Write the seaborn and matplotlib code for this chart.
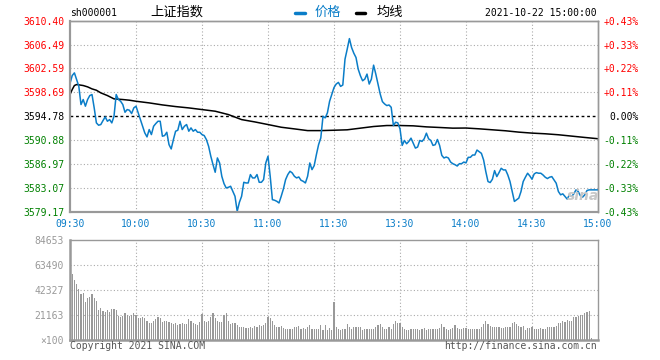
import matplotlib
matplotlib.use("Agg")
import matplotlib.pyplot as plt
from matplotlib.lines import Line2D
import seaborn as sns
import pandas as pd
import numpy as np

# --- data (minutes since 09:30, lunch break removed) ---
minutes = list(range(241))

price = [
    3600.13, 3601.43, 3601.87, 3600.78, 3599.69, 3596.69, 3597.51, 3596.42, 3597.51, 3598.16,
    3598.33, 3596.14, 3593.69, 3593.31, 3593.42, 3594.07, 3594.67, 3593.96, 3594.23, 3593.69,
    3594.78, 3598.33, 3597.51, 3597.23, 3596.69, 3595.43, 3595.87, 3595.76, 3595.22, 3596.14,
    3596.42, 3595.33, 3594.23, 3593.14, 3592.05, 3591.40, 3592.60, 3591.78, 3593.14, 3593.58,
    3593.96, 3593.96, 3591.51, 3591.62, 3592.16, 3590.14, 3589.43, 3590.96, 3592.33, 3592.49,
    3593.96, 3592.60, 3593.14, 3593.42, 3592.33, 3592.87, 3592.33, 3592.60, 3592.16, 3592.16,
    3591.78, 3591.62, 3590.96, 3589.87, 3588.24, 3586.87, 3585.62, 3587.96, 3587.14, 3584.96,
    3583.76, 3583.05, 3583.16, 3583.33, 3582.51, 3581.69, 3579.24, 3580.71, 3581.69, 3583.98,
    3583.87, 3583.87, 3585.24, 3584.69, 3584.69, 3585.24, 3583.98, 3583.98, 3584.42, 3587.14,
    3588.24, 3584.96, 3581.14, 3581.04, 3580.87, 3580.60, 3581.69, 3582.89, 3584.42, 3585.24,
    3585.78, 3585.51, 3584.96, 3584.69, 3584.85, 3584.31, 3584.14, 3583.87, 3584.96, 3587.14,
    3586.05, 3586.71, 3588.51, 3590.14, 3591.23, 3594.78, 3594.51, 3595.33, 3597.23, 3598.33,
    3599.47, 3600.04, 3600.31, 3599.66, 3599.88, 3604.11, 3605.74, 3607.47, 3606.01, 3605.09,
    3604.38, 3602.48, 3601.40, 3600.58, 3600.85, 3601.67, 3600.04, 3600.85, 3603.13, 3601.67,
    3600.04, 3598.41, 3597.17, 3596.79, 3596.52, 3596.62, 3596.24, 3593.26, 3593.80, 3593.70,
    3592.72, 3590.01, 3590.82, 3590.28, 3590.66, 3591.20, 3590.39, 3589.57, 3589.74, 3590.82,
    3590.66, 3591.09, 3592.01, 3591.09, 3590.82, 3590.01, 3590.12, 3590.98, 3590.01, 3588.38,
    3587.95, 3588.11, 3587.95, 3587.29, 3587.02, 3586.86, 3586.64, 3587.02, 3587.02, 3587.29,
    3587.15, 3588.06, 3588.06, 3588.44, 3588.44, 3589.25, 3588.98, 3588.71, 3587.63, 3585.73,
    3584.10, 3583.94, 3584.48, 3585.89, 3584.91, 3585.56, 3586.27, 3586.00, 3586.00, 3585.18,
    3584.10, 3582.47, 3580.85, 3581.12, 3581.39, 3582.47, 3584.10, 3584.81, 3585.46, 3585.02,
    3584.48, 3585.35, 3585.56, 3585.46, 3585.46, 3585.18, 3584.81, 3584.59, 3584.81, 3584.91,
    3584.37, 3583.83, 3582.47, 3581.93, 3582.09, 3581.66, 3581.23, 3581.93, 3581.66, 3582.09,
    3582.74, 3582.47, 3581.77, 3581.55, 3581.93, 3582.64, 3582.74, 3582.74, 3582.74, 3582.74,
    3582.74,
]

avg_min = [0, 1, 2, 3, 4, 6, 8, 10, 12, 14, 17, 20, 24, 27, 30, 36, 42, 48, 54, 60,
           66, 72, 78, 84, 90, 96, 102, 108, 114, 120, 126, 132, 138, 144, 150, 156,
           162, 168, 174, 180, 186, 192, 198, 204, 210, 216, 222, 228, 234, 240]
avg_price = [3598.33, 3599.14, 3599.80, 3599.96, 3599.91, 3599.80, 3599.58, 3599.25, 3599.03, 3598.60,
             3598.16, 3597.62, 3597.51, 3597.40, 3597.23, 3596.96, 3596.63, 3596.36, 3596.14, 3595.87,
             3595.60, 3595.05, 3594.23, 3593.85, 3593.42, 3592.98, 3592.71, 3592.43, 3592.43, 3592.49,
             3592.56, 3592.83, 3593.10, 3593.26, 3593.26, 3593.21, 3593.04, 3592.94, 3592.83, 3592.85,
             3592.72, 3592.56, 3592.40, 3592.18, 3592.02, 3591.91, 3591.75, 3591.53, 3591.31, 3591.10]

# volume in units of 100 shares
volume = [
    55000, 55800, 50800, 47400, 42900, 38900, 40000, 32400, 35300, 36100,
    38900, 35300, 33300, 25400, 26800, 24800, 24000, 25400, 24000, 26200,
    25900, 25400, 20300, 19700, 20300, 22600, 21200, 20300, 21200, 22600,
    21200, 18900, 18300, 19200, 18300, 16400, 14700, 14700, 16400, 17500,
    19200, 18300, 15500, 16100, 16400, 15500, 14700, 13500, 14100, 13000,
    13500, 14100, 13500, 13500, 17500, 16400, 14100, 13500, 12700, 15500,
    21700, 16400, 15500, 16400, 19200, 23100, 18300, 16400, 15200, 15500,
    20900, 22600, 16400, 13500, 14700, 14700, 12700, 11300, 11300, 10700,
    9900, 9900, 10700, 10200, 11800, 10700, 12400, 11800, 12700, 14700,
    19200, 18300, 16400, 12700, 11300, 10700, 11800, 9900, 9600, 9000,
    9300, 9600, 10700, 11300, 11800, 9600, 10400, 9600, 10700, 12700,
    9300, 9000, 9300, 9000, 12700, 8500, 12700, 8500, 9900, 8500,
    32400, 10700, 9000, 8500, 9000, 9000, 13300, 11300, 9600, 10700,
    11300, 10700, 11300, 8500, 9600, 9000, 9600, 9600, 9600, 11300,
    12700, 13500, 11300, 9600, 9600, 11300, 9600, 13300, 16400, 14700,
    14100, 11300, 9000, 8500, 8500, 9000, 9000, 9600, 9600, 8500,
    9600, 10400, 8500, 9000, 9600, 9000, 9600, 9000, 9900, 13500,
    11300, 9000, 8500, 9600, 10400, 12700, 10400, 9600, 9000, 10400,
    10400, 9000, 9000, 9000, 9000, 9600, 9600, 11300, 13500, 16400,
    13500, 11800, 11300, 11000, 10700, 10700, 10400, 10400, 10700, 11300,
    11300, 14100, 15500, 13500, 11800, 10700, 11800, 8500, 10400, 10400,
    11300, 9600, 9600, 9600, 10400, 9000, 9600, 10700, 11300, 10700,
    11300, 11800, 14100, 14700, 16100, 15200, 16900, 16400, 16400, 19700,
    19200, 20300, 21200, 21200, 22600, 24000, 24500, 1400, 0, 0,
    0,
]

prev_close = 3594.78
price_ticks = [3579.17, 3583.07, 3586.97, 3590.88, 3594.78, 3598.69, 3602.59, 3606.49, 3610.40]
pct_labels = ["-0.43%", "-0.33%", "-0.22%", "-0.11%", "0.00%", "+0.11%", "+0.22%", "+0.33%", "+0.43%"]
time_ticks = [0, 30, 60, 90, 120, 150, 180, 210, 240]
time_labels = ["09:30", "10:00", "10:30", "11:00", "11:30", "13:30", "14:00", "14:30", "15:00"]
vol_ticks = [0, 21163, 42327, 63490, 84653]
vol_labels = ["\u00d7100", "21163", "42327", "63490", "84653"]

df = pd.DataFrame({"minute": minutes, "price": price, "volume": volume})

BLUE = "#0a7dc8"
RED = "#ff0000"
GREEN = "#008000"
GRAY = "#999999"
GRID = "#aaaaaa"

sns.set_style("white")
plt.rcParams["font.family"] = ["DejaVu Sans Mono", "Noto Sans CJK SC"]

W, H = 660, 360
def fx(x):
    return x / W
def fy(y):
    return 1 - y / H

fig = plt.figure(figsize=(6.6, 3.6), dpi=100)
fig.patch.set_facecolor("white")

# --- price panel ---
ax = fig.add_axes([fx(70), fy(211.7), 528 / W, 191 / H])
for t in time_ticks[1:-1]:
    ax.axvline(t, color=GRID, lw=0.8, ls=(0, (1, 2)), zorder=0)
for p in price_ticks[1:-1]:
    if p != prev_close:
        ax.axhline(p, color=GRID, lw=0.8, ls=(0, (1, 2)), zorder=0)
ax.axhline(prev_close, color="black", lw=1.0, ls=(0, (2, 2)), zorder=1)

sns.lineplot(x=avg_min, y=avg_price, color="black", lw=1.1, ax=ax, zorder=2)
sns.lineplot(data=df, x="minute", y="price", color=BLUE, lw=1.1, ax=ax, zorder=3)

ax.set_xlim(0, 240)
ax.set_ylim(price_ticks[0], price_ticks[-1])
ax.set_xlabel("")
ax.set_ylabel("")
ax.set_xticks(time_ticks)
ax.set_xticklabels(time_labels)
ax.set_yticks(price_ticks)
ax.set_yticklabels([f"{p:.2f}" for p in price_ticks])
ax.tick_params(axis="x", length=0, pad=5, labelsize=7, labelcolor=BLUE)
ax.tick_params(axis="y", length=0, pad=4.3, labelsize=7)

def level_color(p):
    if p > prev_close:
        return RED
    if p < prev_close:
        return GREEN
    return "black"

for lbl, p in zip(ax.get_yticklabels(), price_ticks):
    lbl.set_color(level_color(p))

ax2 = ax.twinx()
ax2.set_ylim(price_ticks[0], price_ticks[-1])
ax2.set_yticks(price_ticks)
ax2.set_yticklabels(pct_labels)
ax2.tick_params(axis="y", length=0, pad=29.5, labelsize=7)
for lbl, p in zip(ax2.get_yticklabels(), price_ticks):
    lbl.set_color(level_color(p))
    lbl.set_horizontalalignment("right")

for a in (ax, ax2):
    for side in ("top", "right"):
        a.spines[side].set_color(GRAY)
        a.spines[side].set_linewidth(1.0)
    for side in ("left", "bottom"):
        a.spines[side].set_color(GRAY)
        a.spines[side].set_linewidth(1.5)

# --- volume panel ---
axv = fig.add_axes([fx(70), fy(340), 528 / W, 100 / H])
for t in time_ticks[1:-1]:
    axv.axvline(t, color=GRID, lw=0.8, ls=(0, (1, 2)), zorder=0)
for v in vol_ticks[1:-1]:
    axv.axhline(v, color=GRID, lw=0.8, ls=(0, (1, 2)), zorder=0)
sns.barplot(data=df, x="minute", y="volume", native_scale=True, color=GRAY,
            saturation=1, width=0.5, linewidth=0, errorbar=None, ax=axv, zorder=2)
axv.set_xlim(0, 240)
axv.set_ylim(0, vol_ticks[-1])
axv.set_xlabel("")
axv.set_ylabel("")
axv.set_xticks(time_ticks)
axv.set_xticklabels([])
axv.set_yticks(vol_ticks)
axv.set_yticklabels(vol_labels)
axv.tick_params(axis="x", length=0)
axv.tick_params(axis="y", length=0, pad=4.3, labelsize=7, labelcolor=GRAY)
for side in ("top", "right"):
    axv.spines[side].set_color(GRAY)
    axv.spines[side].set_linewidth(1.0)
for side in ("left", "bottom"):
    axv.spines[side].set_color(GRAY)
    axv.spines[side].set_linewidth(1.8)

# --- header ---
fig.text(fx(70), fy(13), "sh000001", ha="left", va="center", fontsize=7, color="black")
fig.text(fx(177), fy(12.5), "上证指数", ha="center", va="center", fontsize=9.5,
         color="black", family=["Noto Sans CJK SC", "DejaVu Sans"])
fig.add_artist(Line2D([fx(295), fx(305)], [fy(12.5), fy(12.5)], color=BLUE, lw=2.5,
                      transform=fig.transFigure))
fig.text(fx(327.5), fy(12.5), "价格", ha="center", va="center", fontsize=9.5,
         color=BLUE, family=["Noto Sans CJK SC", "DejaVu Sans"])
fig.add_artist(Line2D([fx(356), fx(365)], [fy(12.5), fy(12.5)], color="black", lw=2.5,
                      transform=fig.transFigure))
fig.text(fx(389.5), fy(12.5), "均线", ha="center", va="center", fontsize=9.5,
         color="black", family=["Noto Sans CJK SC", "DejaVu Sans"])
fig.text(fx(597), fy(13), "2021-10-22 15:00:00", ha="right", va="center", fontsize=7, color="black")

# --- footer ---
fig.text(fx(70), fy(346), "Copyright 2021 SINA.COM", ha="left", va="center", fontsize=7, color="#555555")
fig.text(fx(597), fy(346), "http://finance.sina.com.cn", ha="right", va="center", fontsize=7, color="#555555")

# faint watermark
fig.text(fx(583), fy(196), "sina", ha="center", va="center", fontsize=10, style="italic",
         weight="bold", color="#c8c8c8", family="DejaVu Sans")

fig.savefig("out.png", dpi=100, facecolor="white")
